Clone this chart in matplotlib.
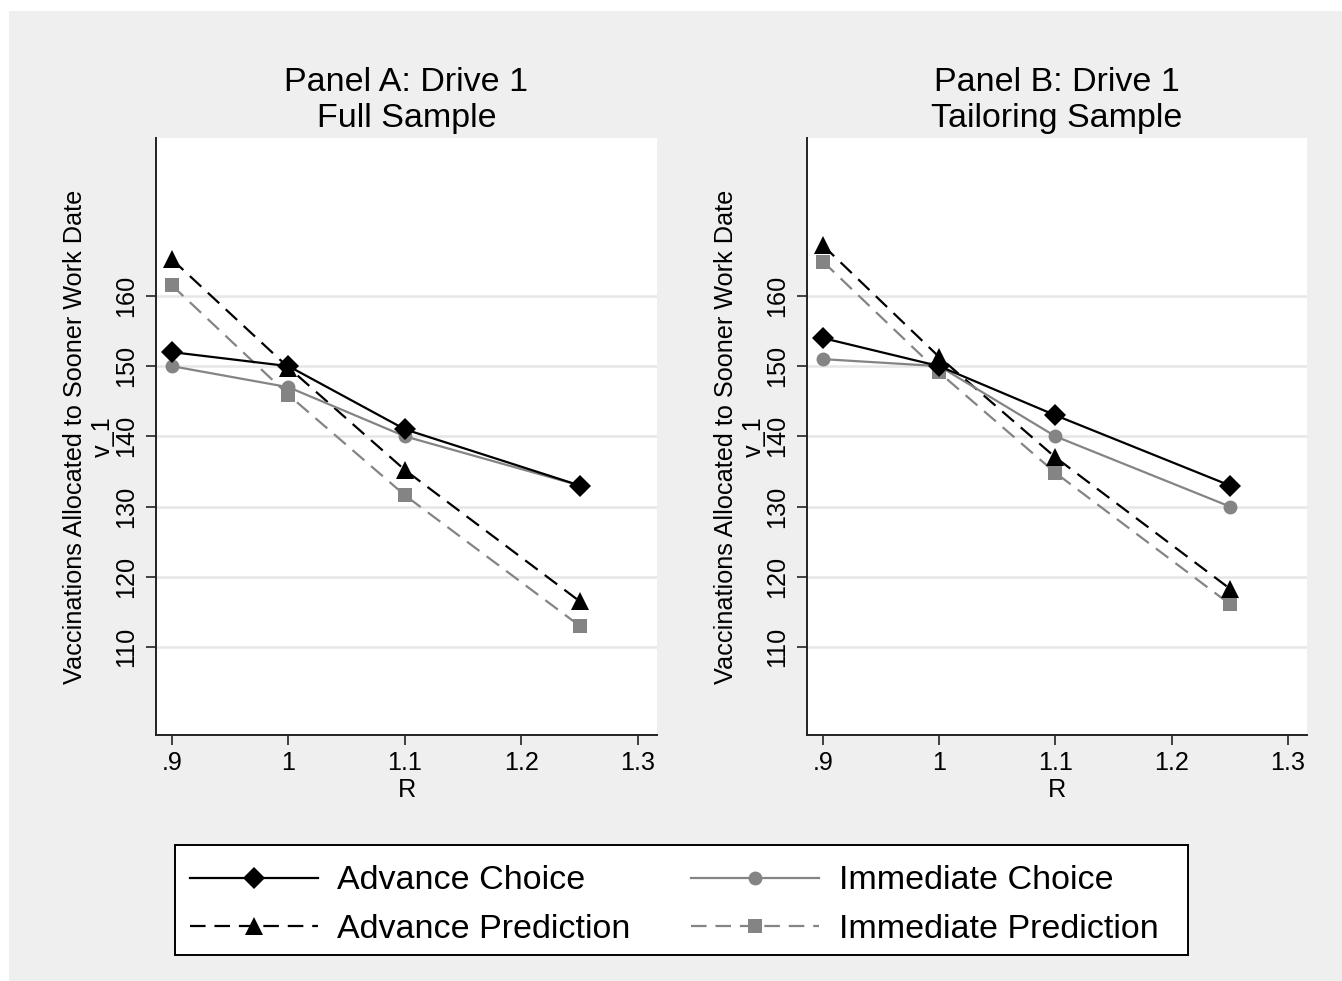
import numpy as np
import matplotlib.pyplot as plt
from matplotlib.patches import Rectangle
from matplotlib.lines import Line2D

plt.rcParams['font.family'] = ['Liberation Sans', 'DejaVu Sans']

# --- Datos ---
R = [0.9, 1.0, 1.1, 1.25]

# Panel A: Full Sample
a_adv_choice = [152, 150, 141, 133]
a_imm_choice = [150, 147, 140, 133]
a_adv_pred = [165.2, 149.8, 135.2, 116.5]
a_imm_pred = [161.5, 145.9, 131.6, 113.0]

# Panel B: Tailoring Sample
b_adv_choice = [154, 150, 143, 133]
b_imm_choice = [151, 150, 140, 130]
b_adv_pred = [167.2, 151.3, 137.0, 118.3]
b_imm_pred = [164.9, 149.1, 134.8, 116.1]

titles = ["Panel A: Drive 1\nFull Sample", "Panel B: Drive 1\nTailoring Sample"]
labels = ["Advance Choice", "Immediate Choice", "Advance Prediction", "Immediate Prediction"]
yticks = [110, 120, 130, 140, 150, 160]
xticks = [0.9, 1.0, 1.1, 1.2, 1.3]
xticklabels = [".9", "1", "1.1", "1.2", "1.3"]

# --- Estilo ---
W, H = 1342, 981
BG = '#efefef'
GRAY = '#848484'
DARK = '#222222'
FS_TICK = 18.2
FS_BIG = 24.5
LW = 1.6
DASH = (7, 4)

# estilo de cada serie: (color, guiones, marcador, tamaño)
styles = {
    "Advance Choice": ('black', None, 'D', 11.5),
    "Immediate Choice": (GRAY, None, 'o', 10),
    "Advance Prediction": ('black', DASH, '^', 13),
    "Immediate Prediction": (GRAY, DASH, 's', 10),
}

def make_line(ax, x, y, name, z):
    color, dashes, marker, ms = styles[name]
    kw = dict(color=color, lw=LW, marker=marker, ms=ms, markeredgewidth=0, zorder=z)
    if dashes is not None:
        kw['dashes'] = dashes
    if ax is None:
        return Line2D([], [], **kw)
    return ax.plot(x, y, **kw)[0]

fig = plt.figure(figsize=(W / 100, H / 100), dpi=100)
fig.patch.set_facecolor('white')
fig.add_artist(Rectangle((9 / W, 0), 1 - 9 / W, 1 - 11 / H, transform=fig.transFigure,
                         facecolor=BG, edgecolor='none', zorder=-10))

def px_axes(x0, y0, x1, y1):
    return fig.add_axes([x0 / W, 1 - y1 / H, (x1 - x0) / W, (y1 - y0) / H])

ax_a = px_axes(156, 138, 657, 735)
ax_b = px_axes(807, 138, 1307, 735)

panels = [
    (ax_a, a_adv_choice, a_imm_choice, a_adv_pred, a_imm_pred),
    (ax_b, b_adv_choice, b_imm_choice, b_adv_pred, b_imm_pred),
]

for i, (ax, adv_c, imm_c, adv_p, imm_p) in enumerate(panels):
    ax.set_facecolor('white')
    make_line(ax, R, imm_p, "Immediate Prediction", 3)
    make_line(ax, R, adv_p, "Advance Prediction", 4)
    make_line(ax, R, imm_c, "Immediate Choice", 5)
    make_line(ax, R, adv_c, "Advance Choice", 6)

    ax.set_xlim(0.8863, 1.3163)
    ax.set_ylim(97.46, 182.5)
    ax.set_xticks(xticks)
    ax.set_xticklabels(xticklabels)
    ax.set_yticks(yticks)
    ax.set_yticklabels([str(v) for v in yticks], rotation=90, va='center')
    ax.tick_params(direction='out', length=7, width=1.2, color=DARK,
                   labelsize=FS_TICK)
    ax.tick_params(axis='x', pad=4.5)
    ax.tick_params(axis='y', pad=6)
    ax.grid(True, axis='y', color='#e6e6e6', lw=1.8, zorder=0)
    ax.set_axisbelow(True)

    for s in ['top', 'right']:
        ax.spines[s].set_visible(False)
    for s in ['left', 'bottom']:
        ax.spines[s].set_color(DARK)
        ax.spines[s].set_linewidth(1.4)

    ax.set_title(titles[i], fontsize=FS_BIG, pad=8, linespacing=1.2)
    ax.set_ylabel("Vaccinations Allocated to Sooner Work Date\nv_1", fontsize=FS_TICK)
    ax.yaxis.set_label_coords(-41 / 501, 0.5)
    ax.set_xlabel("R", fontsize=FS_TICK)
    ax.xaxis.set_label_coords(0.5, -43 / 597)

# --- Leyenda (2 columnas, se llena por columnas) ---
order = ["Advance Choice", "Advance Prediction", "Immediate Choice", "Immediate Prediction"]
handles = [make_line(None, None, None, n, 0) for n in order]
leg = fig.legend(handles, order, ncol=2, loc='center left',
                 bbox_to_anchor=(190 / W, 1 - 905 / H), fontsize=FS_BIG,
                 frameon=False, handlelength=3.76, handletextpad=0.57,
                 columnspacing=1.78, labelspacing=0.5, borderpad=0,
                 borderaxespad=0, numpoints=1)
fig.add_artist(Rectangle((175 / W, 1 - 955 / H), (1188 - 175) / W, (955 - 845) / H,
                         transform=fig.transFigure, facecolor='white',
                         edgecolor='black', lw=1.4, zorder=-5))

plt.savefig("out.png", dpi=100, facecolor=fig.get_facecolor())
